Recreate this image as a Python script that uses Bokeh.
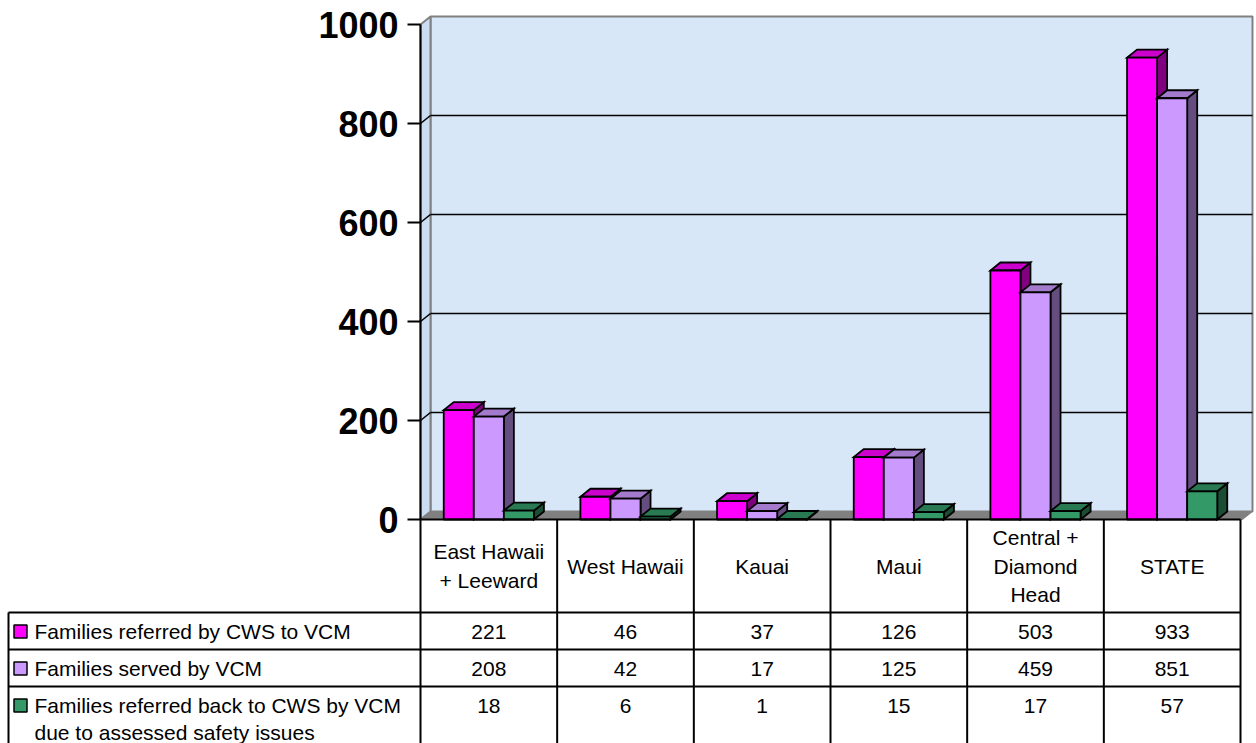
import numpy as np
from bokeh.plotting import figure
from bokeh.models import Range1d, LinearAxis, FixedTicker
from bokeh.embed import file_html
from bokeh.resources import INLINE
from bokeh.core.properties import value

# ---------------- data ----------------
categories = ["East Hawaii\n+ Leeward", "West Hawaii", "Kauai", "Maui",
              "Central +\nDiamond\nHead", "STATE"]
series_names = ["Families referred by CWS to VCM",
                "Families served by VCM",
                "Families referred back to CWS by VCM\ndue to assessed safety issues"]
referred = [221, 46, 37, 126, 503, 933]
served = [208, 42, 17, 125, 459, 851]
referred_back = [18, 6, 1, 15, 17, 57]
y_ticks = [0, 200, 400, 600, 800, 1000]

front_colors = ["#FF00FF", "#CC99FF", "#339966"]
top_colors = ["#CC00CC", "#A37ACC", "#297A52"]
side_colors = ["#800080", "#664D80", "#1A4D33"]

FONT = "Liberation Sans"

# ---------------- layout helpers (pixel -> data) ----------------
W, H = 1256, 743
X0 = 420.0
COL = (1240.0 - 420.0) / 6.0
Y0 = 519.0
S = 0.495


def xd(px):
    return (px - X0) / COL


def yd(py):
    return (Y0 - py) / S


DX = 10.0 / COL
DY = 8.0 / S
YMAX = y_ticks[-1]
XR = xd(1252)

p = figure(width=W, height=H, x_range=Range1d(xd(0), xd(W)),
           y_range=Range1d(yd(H), yd(0)), output_backend="svg",
           toolbar_location=None, min_border=0,
           x_axis_location=None, y_axis_location=None)
p.outline_line_color = None
p.grid.visible = False
p.background_fill_color = "white"
p.border_fill_color = "white"

# ---------------- walls and floor ----------------
p.quad(left=[DX], right=[XR], bottom=[DY], top=[YMAX + DY],
       fill_color="#D8E7F8", line_color="#808080", line_width=2)
p.patch([0, DX, DX, 0], [0, DY, YMAX + DY, YMAX],
        fill_color="#CADDF2", line_color="#808080", line_width=2)
p.patch([0, XR - DX, XR, DX], [0, 0, DY, DY],
        fill_color="#808080", line_color="#808080", line_width=1)

grid_vals = [v for v in y_ticks if 0 < v < YMAX]
p.segment(x0=[DX] * len(grid_vals), y0=[v + DY for v in grid_vals],
          x1=[XR] * len(grid_vals), y1=[v + DY for v in grid_vals],
          line_color="black", line_width=1.6)
p.segment(x0=[0] * len(grid_vals), y0=grid_vals,
          x1=[DX] * len(grid_vals), y1=[v + DY for v in grid_vals],
          line_color="black", line_width=1.6)

# ---------------- 3D bars ----------------
bw = 0.22
series = [referred, served, referred_back]
idx = np.arange(len(categories))
for k, vals in enumerate(series):
    vals = np.array(vals, dtype=float)
    left = idx + 0.5 + (k - 1) * bw - bw / 2
    right = left + bw
    side_xs = [[r, r + DX, r + DX, r] for r in right]
    side_ys = [[0, DY, v + DY, v] for v in vals]
    p.patches(side_xs, side_ys, fill_color=side_colors[k], line_color="black",
              line_width=1.8, line_join="miter")
    top_xs = [[l, r, r + DX, l + DX] for l, r in zip(left, right)]
    top_ys = [[v, v, v + DY, v + DY] for v in vals]
    p.patches(top_xs, top_ys, fill_color=top_colors[k], line_color="black",
              line_width=1.8, line_join="miter")
    p.quad(left=left, right=right, bottom=np.zeros_like(vals), top=vals,
           fill_color=front_colors[k], line_color="black", line_width=1.8)

# ---------------- value axis ----------------
ax = LinearAxis(fixed_location=0, ticker=FixedTicker(ticks=y_ticks),
                bounds=(0, YMAX))
ax.axis_line_width = 2
ax.major_tick_line_width = 2
ax.major_tick_in = 0
ax.major_tick_out = 13
ax.minor_tick_line_color = None
ax.major_label_standoff = 9
ax.major_label_text_font = FONT
ax.major_label_text_font_style = "bold"
ax.major_label_text_font_size = "36px"
ax.major_label_text_color = "black"
p.add_layout(ax, "left")

# ---------------- data table ----------------
row_lines = [612, 649, 686]
bottom = 745
ncat = len(categories)
p.segment(x0=[0], y0=[0], x1=[ncat], y1=[0], line_color="black", line_width=2)
p.segment(x0=[xd(8)] * len(row_lines), y0=[yd(r) for r in row_lines],
          x1=[ncat] * len(row_lines), y1=[yd(r) for r in row_lines],
          line_color="black", line_width=2)
p.segment(x0=list(range(ncat + 1)), y0=[0] * (ncat + 1),
          x1=list(range(ncat + 1)), y1=[yd(bottom)] * (ncat + 1),
          line_color="black", line_width=2)
p.segment(x0=[xd(8)], y0=[yd(612)], x1=[xd(8)], y1=[yd(bottom)],
          line_color="black", line_width=2)

# category labels
p.text(x=idx + 0.5, y=[yd(565.5)] * ncat, text=categories,
       text_align="center", text_baseline="middle", text_font=value(FONT),
       text_font_size="21px", text_color="black", text_line_height=1.25)

# row values
row_centers = [631, 668, 705]
for k, vals in enumerate(series):
    p.text(x=idx + 0.5, y=[yd(row_centers[k])] * ncat, text=[str(v) for v in vals],
           text_align="center", text_baseline="middle", text_font=value(FONT),
           text_font_size="21px", text_color="black")

# row labels with swatches
label_y = [yd(631), yd(668), yd(693)]
p.text(x=[xd(34)] * 2, y=label_y[:2], text=series_names[:2],
       text_align="left", text_baseline="middle", text_font=value(FONT),
       text_font_size="21px", text_color="black")
p.text(x=[xd(34)], y=[label_y[2]], text=[series_names[2]],
       text_align="left", text_baseline="top", text_font=value(FONT),
       text_font_size="21px", text_color="black", text_line_height=1.2)
p.rect(x=[xd(20)] * 3, y=[yd(c) for c in row_centers], width=13, height=13,
       width_units="screen", height_units="screen",
       fill_color=front_colors, line_color="black", line_width=1.5)

open("out.html", "w").write(file_html(p, INLINE))
